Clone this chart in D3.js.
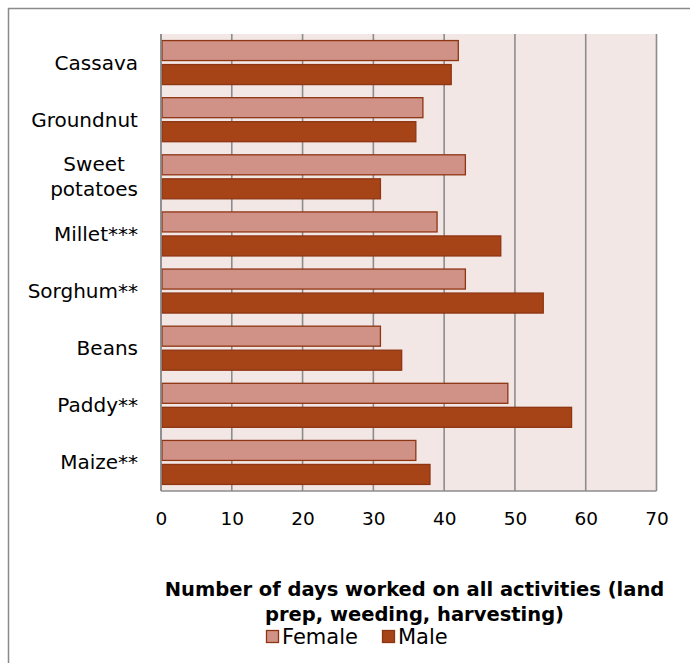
<!DOCTYPE html>
<html>
<head>
<meta charset="utf-8">
<script src="https://cdn.jsdelivr.net/npm/d3@7"></script>
<style>
  html, body { margin: 0; padding: 0; background: #fff; }
  svg { display: block; }
  text { font-family: "DejaVu Sans", Verdana, sans-serif; fill: #000; }
</style>
</head>
<body>
<div id="chart"></div>
<script>
const categories = ["Cassava", "Groundnut", "Sweet potatoes", "Millet***", "Sorghum**", "Beans", "Paddy**", "Maize**"];
const categoryLines = [["Cassava"], ["Groundnut"], ["Sweet", "potatoes"], ["Millet***"], ["Sorghum**"], ["Beans"], ["Paddy**"], ["Maize**"]];
const seriesNames = ["Female", "Male"];
const femaleValues = [42, 37, 43, 39, 43, 31, 49, 36];
const maleValues = [41, 36, 31, 48, 54, 34, 58, 38];
const xTicks = [0, 10, 20, 30, 40, 50, 60, 70];
const axisTitleLines = ["Number of days worked on all activities (land", "prep, weeding, harvesting)"];

const W = 690, H = 663;
const plot = { left: 161, right: 656.5, top: 34, bottom: 491 };
const colors = { Female: "#D09286", Male: "#A64417" };
const barStroke = "#8E3513";

const svg = d3.select("#chart").append("svg").attr("width", W).attr("height", H);

// outer chart border
svg.append("rect").attr("x", 8.5).attr("y", 8.5).attr("width", W + 10).attr("height", H + 10)
  .attr("fill", "#fff").attr("stroke", "#8a8a8a").attr("stroke-width", 1.5);

const x = d3.scaleLinear().domain([0, 70]).range([plot.left, plot.right]);
const y = d3.scaleBand().domain(categories).range([plot.top, plot.bottom]).paddingInner(0).paddingOuter(0);
const inner = d3.scaleBand().domain(seriesNames).range([0, y.bandwidth()]).paddingInner(0.167).paddingOuter(0.273);

// plot background
svg.append("rect").attr("x", plot.left).attr("y", plot.top)
  .attr("width", plot.right - plot.left).attr("height", plot.bottom - plot.top)
  .attr("fill", "#F3E7E6");

// gridlines
svg.append("g").selectAll("line").data(xTicks).join("line")
  .attr("x1", d => x(d)).attr("x2", d => x(d))
  .attr("y1", plot.top).attr("y2", plot.bottom)
  .attr("stroke", "#8c8c8c").attr("stroke-width", 1.6);

// bottom axis line
svg.append("line").attr("x1", plot.left).attr("x2", plot.right)
  .attr("y1", plot.bottom).attr("y2", plot.bottom)
  .attr("stroke", "#8c8c8c").attr("stroke-width", 1.6);

// bars
const rows = categories.map((c, i) => ({ c, Female: femaleValues[i], Male: maleValues[i] }));
const g = svg.append("g");
seriesNames.forEach(s => {
  g.selectAll("rect." + s).data(rows).join("rect")
    .attr("class", s)
    .attr("x", x(0) + 1)
    .attr("y", d => y(d.c) + inner(s))
    .attr("width", d => x(d[s]) - x(0) - 1)
    .attr("height", inner.bandwidth())
    .attr("fill", colors[s])
    .attr("stroke", barStroke)
    .attr("stroke-width", 1.3);
});

// left axis line
svg.append("line").attr("x1", plot.left).attr("x2", plot.left)
  .attr("y1", plot.top).attr("y2", plot.bottom)
  .attr("stroke", "#8c8c8c").attr("stroke-width", 1.6);

// category labels
const lineH = 25;
categories.forEach((c, i) => {
  const lines = categoryLines[i];
  const cy = y(c) + y.bandwidth() / 2;
  const t = svg.append("text")
    .attr("font-size", 20)
    .attr("text-anchor", "middle")
    .attr("dominant-baseline", "central");
  lines.forEach((ln, j) => {
    t.append("tspan").attr("x", 0).attr("y", cy + (j - (lines.length - 1) / 2) * lineH).text(ln);
  });
  const bb = t.node().getBBox();
  t.attr("transform", `translate(${138 - bb.width / 2},0)`);
});

// x tick labels
const xAxis = d3.axisBottom(x).tickValues(xTicks).tickSize(0).tickPadding(0);
const ax = svg.append("g").attr("transform", `translate(0, 519)`).call(xAxis);
ax.select(".domain").remove();
ax.selectAll("text").attr("font-size", 18.5).attr("dy", "0.35em").attr("y", 0)
  .style("font-family", '"DejaVu Sans", Verdana, sans-serif').attr("fill", "#000");

// axis title
axisTitleLines.forEach((ln, j) => {
  svg.append("text").attr("x", 414.5).attr("y", 589 + j * 25)
    .attr("text-anchor", "middle").attr("dominant-baseline", "central")
    .attr("font-size", 19.5).attr("font-weight", "bold").text(ln);
});

// legend
const legendItems = [{ name: "Female", x: 266 }, { name: "Male", x: 382 }];
legendItems.forEach(item => {
  svg.append("rect").attr("x", item.x + 0.5).attr("y", 630.5).attr("width", 12).attr("height", 12)
    .attr("fill", colors[item.name]).attr("stroke", barStroke).attr("stroke-width", 1.3);
  svg.append("text").attr("x", item.x + 16).attr("y", 637)
    .attr("dominant-baseline", "central").attr("font-size", 21).text(item.name);
});
</script>
</body>
</html>
